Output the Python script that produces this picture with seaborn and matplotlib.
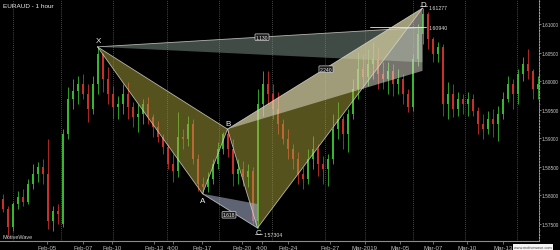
import numpy as np
import pandas as pd
import seaborn as sns
import matplotlib
matplotlib.use("Agg")
import matplotlib.pyplot as plt
from matplotlib.patches import Polygon

# ---------------- data (EURAUD, 1 hour, resampled bars) ----------------
opens = [1.5794, 1.5776, 1.5745, 1.5785, 1.5797, 1.5789, 1.5820, 1.5837, 1.5850, 1.5837,
         1.5755, 1.5773, 1.5750, 1.5907, 1.5969, 1.5983, 1.5995, 1.5977, 1.5951, 1.5995,
         1.6047, 1.6004, 1.5977, 1.5955, 1.5960, 1.5977, 1.5955, 1.5937, 1.5943, 1.5960,
         1.5937, 1.5920, 1.5902, 1.5885, 1.5855, 1.5843, 1.5902, 1.5899, 1.5925, 1.5864,
         1.5820, 1.5815, 1.5829, 1.5855, 1.5881, 1.5907, 1.5881, 1.5837, 1.5846, 1.5832,
         1.5843, 1.5755, 1.5960, 1.5995, 1.5977, 1.5951, 1.5925, 1.5899, 1.5881, 1.5864,
         1.5837, 1.5829, 1.5864, 1.5881, 1.5855, 1.5846, 1.5864, 1.5916, 1.5934, 1.5907,
         1.5943, 1.5986, 1.6021, 1.6007, 1.6030, 1.6039, 1.6012, 1.6004, 1.6018, 1.5995,
         1.6004, 1.5977, 1.5955, 1.6039, 1.6083, 1.6118, 1.6074, 1.6047, 1.6060, 1.5960,
         1.5977, 1.5951, 1.5969, 1.5960, 1.5969, 1.5948, 1.5925, 1.5916, 1.5934, 1.5925,
         1.5943, 1.5969, 1.5995, 1.5977, 1.6012, 1.6030, 1.6018, 1.5986]
highs = [1.5803, 1.5782, 1.5789, 1.5808, 1.5811, 1.5829, 1.5855, 1.5858, 1.5864, 1.5899,
         1.5782, 1.5785, 1.5916, 1.5990, 1.6004, 1.6009, 1.6012, 1.5995, 1.6009, 1.6060,
         1.6050, 1.6025, 1.5991, 1.5974, 1.5995, 1.5998, 1.5964, 1.5960, 1.5969, 1.5972,
         1.5943, 1.5930, 1.5907, 1.5890, 1.5872, 1.5946, 1.5916, 1.5939, 1.5934, 1.5872,
         1.5832, 1.5841, 1.5864, 1.5893, 1.5911, 1.5916, 1.5899, 1.5864, 1.5860, 1.5855,
         1.5850, 1.5986, 1.6018, 1.6018, 1.5995, 1.5981, 1.5934, 1.5916, 1.5890, 1.5876,
         1.5850, 1.5881, 1.5904, 1.5890, 1.5869, 1.5872, 1.5943, 1.5964, 1.5939, 1.5951,
         1.6004, 1.6051, 1.6047, 1.6056, 1.6069, 1.6060, 1.6033, 1.6033, 1.6030, 1.6021,
         1.6012, 1.5986, 1.6047, 1.6100, 1.61277, 1.6121, 1.6077, 1.6069, 1.6065, 1.5998,
         1.5995, 1.5981, 1.5977, 1.5981, 1.5977, 1.5955, 1.5943, 1.5948, 1.5951, 1.5957,
         1.5981, 1.6009, 1.6004, 1.6021, 1.6042, 1.6056, 1.6021, 1.6009]
lows = [1.5771, 1.5729, 1.5738, 1.5776, 1.5782, 1.5785, 1.5811, 1.5824, 1.5820, 1.5741,
        1.5738, 1.5750, 1.5745, 1.5899, 1.5951, 1.5960, 1.5969, 1.5929, 1.5943, 1.5977,
        1.5981, 1.5960, 1.5934, 1.5934, 1.5943, 1.5934, 1.5920, 1.5911, 1.5925, 1.5925,
        1.5902, 1.5893, 1.5872, 1.5846, 1.5824, 1.5832, 1.5881, 1.5886, 1.5855, 1.5808,
        1.5803, 1.5806, 1.5820, 1.5846, 1.5872, 1.5867, 1.5817, 1.5820, 1.5817, 1.5815,
        1.5750, 1.5743, 1.5939, 1.5960, 1.5934, 1.5907, 1.5890, 1.5864, 1.5846, 1.5820,
        1.5811, 1.5820, 1.5846, 1.5834, 1.5820, 1.5817, 1.5855, 1.5899, 1.5881, 1.5876,
        1.5934, 1.5969, 1.5986, 1.5991, 1.6004, 1.5986, 1.5986, 1.5977, 1.5974, 1.5977,
        1.5960, 1.5946, 1.5948, 1.6026, 1.6065, 1.6056, 1.6033, 1.6033, 1.5939, 1.5934,
        1.5937, 1.5939, 1.5943, 1.5939, 1.5939, 1.5907, 1.5899, 1.5907, 1.5902, 1.5895,
        1.5934, 1.5964, 1.5951, 1.5960, 1.6000, 1.6004, 1.5969, 1.5969]
closes = [1.5776, 1.5745, 1.5785, 1.5797, 1.5789, 1.5820, 1.5837, 1.5850, 1.5837, 1.5755,
          1.5773, 1.5768, 1.5907, 1.5969, 1.5983, 1.5995, 1.5977, 1.5951, 1.5995, 1.6047,
          1.6004, 1.5977, 1.5955, 1.5960, 1.5977, 1.5955, 1.5937, 1.5943, 1.5960, 1.5937,
          1.5920, 1.5902, 1.5885, 1.5855, 1.5843, 1.5902, 1.5899, 1.5925, 1.5864, 1.5820,
          1.5815, 1.5829, 1.5855, 1.5881, 1.5907, 1.5881, 1.5837, 1.5846, 1.5832, 1.5843,
          1.5755, 1.5960, 1.5995, 1.5977, 1.5951, 1.5925, 1.5899, 1.5881, 1.5864, 1.5837,
          1.5829, 1.5864, 1.5881, 1.5855, 1.5846, 1.5864, 1.5916, 1.5934, 1.5907, 1.5943,
          1.5986, 1.6021, 1.6007, 1.6030, 1.6039, 1.6012, 1.6004, 1.6018, 1.5995, 1.6004,
          1.5977, 1.5955, 1.6039, 1.6083, 1.6118, 1.6074, 1.6047, 1.6060, 1.5960, 1.5977,
          1.5951, 1.5969, 1.5960, 1.5969, 1.5948, 1.5925, 1.5916, 1.5934, 1.5925, 1.5943,
          1.5969, 1.5995, 1.5977, 1.6012, 1.6030, 1.6018, 1.5986, 1.5995]

# harmonic pattern points
pattern_labels = ["X", "A", "B", "C", "D"]
pattern_bars = [19, 40, 45, 51, 84]
pattern_prices = [1.6060, 1.5803, 1.5916, 1.5743, 1.61277]
prz_level = 1.60940          # 1.130 XA projection
xd_band_low = 1.6033         # lower edge of X-D guide at D
bd_band_low = 1.6018         # lower edge of B-D guide at D
ac_level = 1.5785            # upper edge of A-C guide at C
ratio_texts = ["1.130", "2.240", "1.618"]
price_texts = ["1.61277", "1.60940", "1.57304"]

# axis labels
xtick_pos = [8.9, 16.1, 21.9, 30.3, 34.1, 39.9, 47.9, 51.9, 57.1, 65.5, 72.5, 79.5, 86.1, 92.9, 100.1]
xtick_lab = ["Feb-05", "Feb-07", "Feb-10", "Feb-13", "4:00", "Feb-17", "Feb-20", "4:00",
             "Feb-24", "Feb-27", "Mar-2019", "Mar-05", "Mar-07", "Mar-10", "Mar-13"]
vgrid_pos = [2.1, 11.7, 22.1, 32.9, 43.3, 53.9, 64.5, 72.5, 82.1, 92.5, 102.9]
ytick_vals = [1.575, 1.580, 1.585, 1.590, 1.595, 1.600, 1.605, 1.610]

df = pd.DataFrame({"open": opens, "high": highs, "low": lows, "close": closes})
df["bar"] = np.arange(len(df))
df["up"] = df["close"] >= df["open"]

# ---------------- styling ----------------
sns.set_theme(style="dark", rc={"axes.facecolor": "black", "figure.facecolor": "black",
                                "axes.edgecolor": "#888888", "text.color": "#dddddd",
                                "xtick.color": "#bbbbbb", "ytick.color": "#cccccc"})
plt.rcParams["font.family"] = ["Liberation Sans", "DejaVu Sans"]

fig = plt.figure(figsize=(5.6, 2.51), dpi=100)
ax = fig.add_axes([0.0, 9 / 251, 539 / 560, 242 / 251])
ax.set_facecolor("black")

UP, DN = "#36b82e", "#c8302a"
cols = [UP if u else DN for u in df["up"]]

# vertical dotted grid
for gx in vgrid_pos:
    ax.axvline(gx, color="#8a8a8a", lw=0.5, ls=(0, (1, 2)), zorder=0)

# wicks + bodies
ax.vlines(df["bar"], df["low"], df["high"], colors=cols, lw=0.6, zorder=1)
body_lo = np.minimum(df["open"], df["close"])
body_h = np.abs(df["close"] - df["open"]).clip(lower=0.00005)
ax.bar(df["bar"], body_h, bottom=body_lo, width=0.4, color=cols, lw=0, zorder=1)

# ---------------- harmonic pattern overlay ----------------
P = {k: (b, p) for k, b, p in zip(pattern_labels, pattern_bars, pattern_prices)}
Xp, Ap, Bp, Cp, Dp = (P[k] for k in pattern_labels)

def tri(pts, fc, alpha, z=3):
    ax.add_patch(Polygon(pts, closed=True, facecolor=fc, alpha=alpha, edgecolor="none", zorder=z))

# X-D guide band (grey green)
tri([Xp, (Dp[0], prz_level), (Dp[0], xd_band_low)], "#7e9688", 0.5)
# main triangles
tri([Xp, Ap, Bp], "#aba43a", 0.5)
tri([Bp, Cp, Dp], "#aba43a", 0.5)
# B-D guide band (light)
tri([Bp, Dp, (Dp[0], bd_band_low)], "#ebe6d6", 0.5, z=4)
# A-C guide (blue grey)
tri([Ap, Cp, (Cp[0], ac_level)], "#a0a8c4", 0.6, z=4)

# edges
edge_kw = dict(color="#d8d8d0", lw=0.6, zorder=5, alpha=0.8)
for a, b in [(Xp, Ap), (Ap, Bp), (Xp, Bp), (Bp, Cp), (Cp, Dp), (Bp, Dp), (Ap, Cp)]:
    ax.plot([a[0], b[0]], [a[1], b[1]], **edge_kw)
ax.plot([Xp[0], Dp[0]], [Xp[1], prz_level], **edge_kw)
ax.plot([Dp[0] - 10.5, Dp[0] + 0.6], [prz_level, prz_level], color="#e8e8e8", lw=0.6, zorder=5)

# point labels
offs = {"X": 0.0011, "A": -0.0012, "B": 0.0010, "C": -0.0008, "D": 0.0007}
for k in pattern_labels:
    b, p = P[k]
    ax.text(b + 0.1, p + offs[k], k, color="#f0f0f0", fontsize=5.8, ha="center",
            va="center", zorder=7)
ax.plot([Cp[0] - 0.6, Cp[0] + 0.9], [Cp[1] - 0.0011, Cp[1] - 0.0011], color="#e0e0e0", lw=0.5, zorder=7)
ax.plot([Dp[0] - 0.6, Dp[0] + 0.9], [Dp[1] + 0.0003, Dp[1] + 0.0003], color="#e0e0e0", lw=0.5, zorder=7)

# price texts
ax.text(Dp[0] + 1.3, Dp[1] + 0.0001, price_texts[0], color="#dddddd", fontsize=3.8, va="center", zorder=7)
ax.text(Dp[0] + 1.3, prz_level, price_texts[1], color="#dddddd", fontsize=3.8, va="center", zorder=7)
ax.text(Cp[0] + 1.3, Cp[1] - 0.0012, price_texts[2], color="#dddddd", fontsize=3.8, va="center", zorder=7)

# ratio boxes
box = dict(boxstyle="round,pad=0.15", fc="#1c1c1c", ec="#d0d0d0", lw=0.5)
ax.text(51.9, 1.6077, ratio_texts[0], color="#e8e8e8", fontsize=3.6, ha="center", va="center", bbox=box, zorder=8)
ax.text(64.7, 1.6021, ratio_texts[1], color="#e8e8e8", fontsize=3.6, ha="center", va="center", bbox=box, zorder=8)
ax.text(45.3, 1.5766, ratio_texts[2], color="#e8e8e8", fontsize=3.6, ha="center", va="center", bbox=box, zorder=8)

# ---------------- axes ----------------
ax.set_xlim(-0.5, 107.3)
ax.set_ylim(1.572025, 1.614375)
ax.yaxis.tick_right()
ax.set_yticks(ytick_vals)
ax.set_yticklabels([f"{v:.5f}" for v in ytick_vals], fontsize=3.4, color="#cccccc")
ax.set_yticks(np.arange(1.573, 1.6141, 0.001), minor=True)
ax.tick_params(axis="y", which="major", length=1.5, width=0.5, color="#aaaaaa", pad=0.5, right=True, left=False)
ax.tick_params(axis="y", which="minor", length=1.0, width=0.4, color="#888888", right=True, left=False)
ax.set_xticks(xtick_pos)
ax.set_xticklabels(xtick_lab, fontsize=4.4, color="#bbbbbb")
ax.tick_params(axis="x", length=2, width=0.5, color="#999999", pad=1.0, bottom=True)
ax.grid(False)
for s in ["top", "left"]:
    ax.spines[s].set_visible(False)
ax.spines["bottom"].set_color("#8c8c8c")
ax.spines["bottom"].set_linewidth(0.8)
ax.spines["right"].set_color("#bbbbbb")
ax.spines["right"].set_linewidth(0.6)
ax.spines["right"].set_linestyle((0, (2, 1.5)))

ax.text(0.006, 0.975, "EURAUD - 1 hour", transform=ax.transAxes, color="#f0f0f0", fontsize=4.6,
        va="center", ha="left")
ax.text(0.004, 0.018, "MotiveWave", transform=ax.transAxes, color="#d0d0d0", fontsize=4.0,
        va="center", ha="left")
fig.text(0.985, 0.012, "www.motivewave.com", color="#444444", fontsize=2.8, ha="right", va="center",
         bbox=dict(boxstyle="square,pad=0.25", fc="#f4f4f4", ec="none"))

fig.savefig("out.png", dpi=100, facecolor="black")
